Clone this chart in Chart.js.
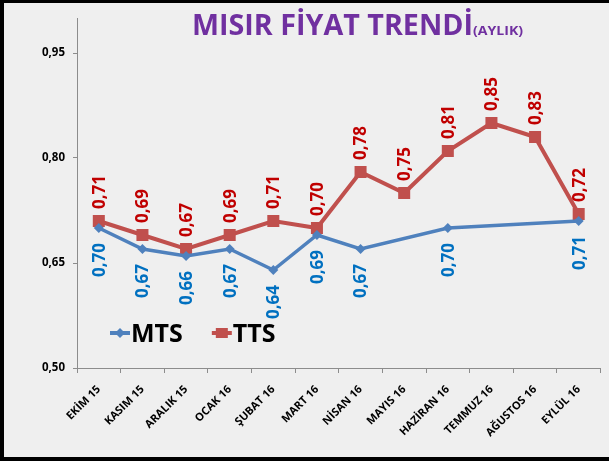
<!DOCTYPE html>
<html>
<head>
<meta charset="utf-8">
<script src="https://cdn.jsdelivr.net/npm/chart.js@4"></script>
<style>
  html, body { margin: 0; padding: 0; background: #fff; }
  #wrap { width: 609px; height: 461px; position: relative; }
</style>
</head>
<body>
<div id="wrap"><canvas id="trendChart" width="609" height="461"></canvas></div>
<script>
// =============================
// DATA
// =============================
const months = ["EKİM 15", "KASIM 15", "ARALIK 15", "OCAK 16", "ŞUBAT 16", "MART 16",
  "NİSAN 16", "MAYIS 16", "HAZİRAN 16", "TEMMUZ 16", "AĞUSTOS 16", "EYLÜL 16"];
const mtsValues = [0.70, 0.67, 0.66, 0.67, 0.64, 0.69, 0.67, null, 0.70, null, null, 0.71];
const ttsValues = [0.71, 0.69, 0.67, 0.69, 0.71, 0.70, 0.78, 0.75, 0.81, 0.85, 0.83, 0.72];
const yTicks = [0.50, 0.65, 0.80, 0.95];
const titleMain = "MISIR FİYAT TRENDİ";
const titleSub = "(AYLIK)";

const FONT = "'Open Sans', 'DejaVu Sans', sans-serif";

function fmt(v) {
  return v.toFixed(2).replace(".", ",");
}

// =============================
// PLUGINS
// =============================
const backgroundPlugin = {
  id: "background",
  beforeDraw(chart) {
    const ctx = chart.ctx;
    ctx.save();
    ctx.fillStyle = "#efefef";
    ctx.fillRect(0, 0, chart.width, chart.height);
    ctx.fillStyle = "#000";
    ctx.fillRect(0, 0, chart.width, 3);
    ctx.fillRect(0, 0, 4, chart.height);
    ctx.fillRect(0, chart.height - 4, chart.width, 4);
    ctx.restore();
  }
};

const titlePlugin = {
  id: "customTitle",
  afterDraw(chart) {
    const ctx = chart.ctx;
    ctx.save();
    ctx.fillStyle = "#7030a0";
    ctx.textBaseline = "alphabetic";
    ctx.textAlign = "left";
    ctx.font = "bold 29px " + FONT;
    let w = ctx.measureText(titleMain).width;
    ctx.save();
    ctx.translate(192, 35);
    ctx.scale(281 / w, 1);
    ctx.fillText(titleMain, 0, 0);
    ctx.restore();
    ctx.font = "bold 13px " + FONT;
    w = ctx.measureText(titleSub).width;
    ctx.translate(473, 35);
    ctx.scale(50 / w, 1);
    ctx.fillText(titleSub, 0, 0);
    ctx.restore();
  }
};

// rotated value labels (TTS above, MTS below)
const valueLabelPlugin = {
  id: "valueLabels",
  afterDatasetsDraw(chart) {
    const ctx = chart.ctx;
    chart.data.datasets.forEach(function (ds, i) {
      const meta = chart.getDatasetMeta(i);
      const above = ds.label === "TTS";
      ctx.save();
      ctx.font = "bold 17px " + FONT;
      ctx.fillStyle = above ? "#c00000" : "#0070c0";
      ctx.textBaseline = "middle";
      meta.data.forEach(function (pt, j) {
        const v = ds.data[j];
        if (v === null) return;
        ctx.save();
        if (above) {
          ctx.translate(pt.x + 1, pt.y - 12);
          ctx.rotate(-Math.PI / 2);
          ctx.textAlign = "left";
        } else {
          ctx.translate(pt.x + 1, pt.y + 15);
          ctx.rotate(-Math.PI / 2);
          ctx.textAlign = "right";
        }
        ctx.fillText(fmt(v), 0, 0);
        ctx.restore();
      });
      ctx.restore();
    });
  }
};

// legend inside the plot area
const legendPlugin = {
  id: "insideLegend",
  afterDraw(chart) {
    const ctx = chart.ctx;
    const area = chart.chartArea;
    const y = 333;
    let x = area.left + 33;
    ctx.save();
    chart.data.datasets.forEach(function (ds) {
      ctx.strokeStyle = ds.borderColor;
      ctx.lineWidth = 4;
      ctx.beginPath();
      ctx.moveTo(x, y);
      ctx.lineTo(x + 20, y);
      ctx.stroke();
      ctx.fillStyle = ds.pointBackgroundColor;
      if (ds.pointStyle === "rect") {
        ctx.fillRect(x + 4, y - 5, 12, 10);
      } else {
        ctx.beginPath();
        ctx.moveTo(x + 10, y - 5);
        ctx.lineTo(x + 15, y);
        ctx.lineTo(x + 10, y + 5);
        ctx.lineTo(x + 5, y);
        ctx.closePath();
        ctx.fill();
      }
      ctx.fillStyle = "#000";
      ctx.font = "bold 25px " + FONT;
      ctx.textBaseline = "alphabetic";
      ctx.textAlign = "left";
      const w = ctx.measureText(ds.label).width;
      ctx.fillText(ds.label, x + 21, y + 9);
      x += 21 + w + 29;
    });
    ctx.restore();
  }
};

// =============================
// CHART
// =============================
new Chart(document.getElementById("trendChart"), {
  type: "line",
  data: {
    labels: months,
    datasets: [
      {
        label: "MTS",
        data: mtsValues,
        borderColor: "#4f81bd",
        backgroundColor: "#4f81bd",
        pointBackgroundColor: "#4f81bd",
        pointBorderWidth: 0,
        pointStyle: "rectRot",
        pointRadius: 5,
        borderWidth: 3.5,
        spanGaps: true,
        tension: 0
      },
      {
        label: "TTS",
        data: ttsValues,
        borderColor: "#c0504d",
        backgroundColor: "#c0504d",
        pointBackgroundColor: "#c0504d",
        pointBorderWidth: 0,
        pointStyle: "rect",
        pointRadius: 8.5,
        borderWidth: 4,
        tension: 0
      }
    ]
  },
  options: {
    responsive: false,
    animation: false,
    layout: { padding: { top: 18, right: 6, left: 0, bottom: 0 } },
    plugins: {
      legend: { display: false },
      title: { display: false },
      tooltip: { enabled: false }
    },
    scales: {
      x: {
        offset: true,
        grid: { offset: true, drawOnChartArea: false, drawTicks: true, tickLength: 5, color: "#8c8c8c" },
        border: { color: "#8c8c8c", width: 1 },
        ticks: {
          autoSkip: false,
          minRotation: 45,
          maxRotation: 45,
          padding: 10,
          color: "#000",
          font: { family: FONT, size: 11, weight: "bold" }
        },
        afterFit(scale) { scale.height = 93; }
      },
      y: {
        min: 0.5,
        max: 1.0,
        grid: { drawOnChartArea: false, drawTicks: true, tickLength: 4, color: "#8c8c8c" },
        border: { color: "#8c8c8c", width: 1 },
        afterBuildTicks(scale) {
          scale.ticks = yTicks.map(v => ({ value: v }));
        },
        ticks: {
          padding: 8,
          color: "#000",
          font: { family: FONT, size: 11.5, weight: "bold" },
          callback: v => fmt(v)
        },
        afterFit(scale) { scale.width = 77; }
      }
    }
  },
  plugins: [backgroundPlugin, valueLabelPlugin, legendPlugin, titlePlugin]
});
</script>
</body>
</html>
